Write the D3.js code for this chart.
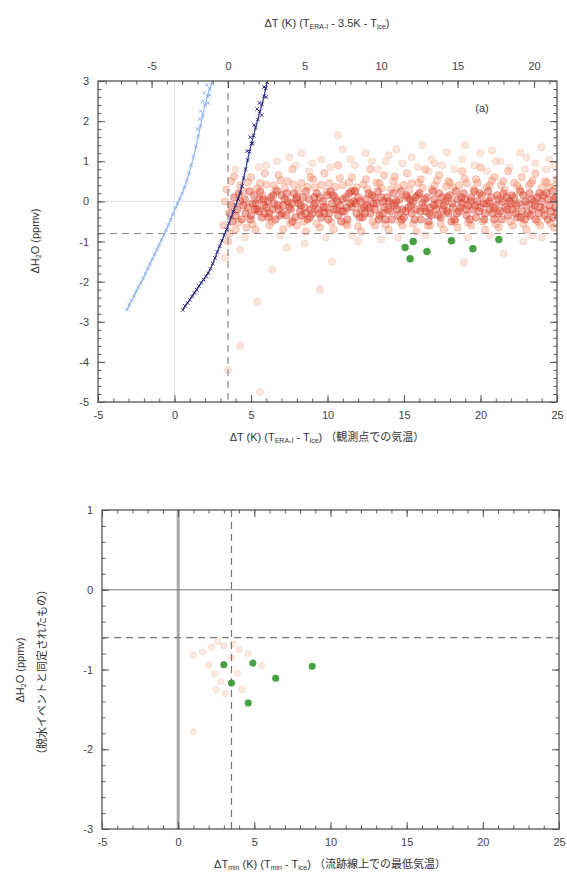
<!DOCTYPE html>
<html><head><meta charset="utf-8">
<script src="https://cdn.jsdelivr.net/npm/d3@7"></script>
<style>
body{margin:0;background:#fff}
text{font-family:"Liberation Sans",Arial,sans-serif}
.jp{font-family:"Noto Sans CJK JP","Liberation Sans",sans-serif}
</style>
</head><body>
<svg id="c" width="567" height="885"></svg>
<script>
// ---------------- DATA ----------------
const xTicksMajor = [-5, 0, 5, 10, 15, 20, 25];
const topTicksMajor = [-5, 0, 5, 10, 15, 20];
const yTicksTop = [3, 2, 1, 0, -1, -2, -3, -4, -5];
const yTicksBottom = [1, 0, -1, -2, -3];
const tShift = 3.5; // top axis: ΔT - 3.5K

// light-blue curve (ΔT, ΔH2O), along the line
const curveLight = [[-3.1,-2.7],[-2.95,-2.58],[-2.8,-2.47],[-2.65,-2.36],[-2.5,-2.25],[-2.35,-2.14],[-2.2,-2.03],[-2.05,-1.92],[-1.9,-1.8],[-1.75,-1.68],[-1.6,-1.56],[-1.45,-1.44],[-1.3,-1.32],[-1.15,-1.2],[-1.0,-1.08],[-0.85,-0.96],[-0.7,-0.84],[-0.55,-0.72],[-0.4,-0.59],[-0.25,-0.46],[-0.1,-0.32],[0.05,-0.18],[0.2,-0.05],[0.35,0.07],[0.5,0.2],[0.65,0.35],[0.8,0.52],[0.95,0.7],[1.1,0.9],[1.25,1.12],[1.4,1.36],[1.55,1.62],[1.7,1.88],[1.85,2.14],[2.0,2.4],[2.15,2.62],[2.3,2.8],[2.45,2.97]];
// light-blue scattered markers near the top
const curveLightScatter = [[1.5,1.8],[1.7,2.25],[1.85,2.5],[2.2,2.45],[1.95,2.7],[2.1,2.9],[1.65,2.05],[2.3,2.65]];
// dark-navy curve, along the line
const curveDark = [[0.55,-2.7],[0.7,-2.61],[0.85,-2.53],[1.0,-2.45],[1.15,-2.37],[1.3,-2.28],[1.45,-2.2],[1.6,-2.11],[1.75,-2.03],[1.9,-1.95],[2.05,-1.87],[2.2,-1.79],[2.35,-1.68],[2.5,-1.55],[2.65,-1.41],[2.8,-1.26],[2.95,-1.12],[3.1,-0.98],[3.25,-0.84],[3.4,-0.7],[3.55,-0.55],[3.7,-0.4],[3.85,-0.25],[4.0,-0.09],[4.15,0.06],[4.28,0.2],[4.4,0.38],[4.52,0.58],[4.65,0.8],[4.78,1.03],[4.9,1.24],[5.03,1.44],[5.17,1.64],[5.3,1.83],[5.45,2.04],[5.58,2.24],[5.72,2.42],[5.85,2.62],[5.97,2.82],[6.05,2.97]];
// dark-navy scattered markers near the top
const curveDarkScatter = [[5.2,1.9],[5.55,2.45],[5.85,2.85],[4.75,1.25],[5.7,2.15],[5.1,1.45],[6.0,2.6],[5.4,2.3],[4.95,1.6]];

// observation cloud: dense core
const cloudCore = [[3.6,-0.3],[3.9,0.1],[4.1,-0.2],[4.4,-0.45],[4.6,0.05],[4.8,-0.15],[5.0,-0.35],[5.2,0.15],[5.3,-0.05],[5.5,-0.25],[5.7,-0.4],[5.8,0.05],[6.0,-0.15],[6.2,-0.3],[6.3,0.1],[6.5,-0.05],[6.6,-0.45],[6.8,-0.2],[7.0,0.15],[7.1,-0.1],[7.3,-0.35],[7.4,0.0],[7.6,-0.2],[7.8,0.2],[7.9,-0.4],[8.1,-0.05],[8.2,-0.25],[8.4,0.1],[8.5,-0.15],[8.7,-0.45],[8.8,0.05],[9.0,-0.3],[9.1,-0.1],[9.3,0.2],[9.4,-0.2],[9.6,-0.4],[9.7,0.0],[9.9,-0.15],[10.0,0.15],[10.1,-0.3],[10.3,-0.05],[10.4,-0.2],[10.5,0.1],[10.7,-0.35],[10.8,-0.1],[11.0,0.05],[11.1,-0.25],[11.3,-0.45],[11.4,0.2],[11.6,-0.15],[11.7,0.0],[11.9,-0.3],[12.0,0.1],[12.2,-0.2],[12.3,-0.4],[12.5,0.05],[12.6,-0.1],[12.8,-0.3],[12.9,0.15],[13.1,-0.2],[13.2,-0.05],[13.4,-0.35],[13.5,0.1],[13.7,-0.15],[13.8,-0.45],[14.0,0.0],[14.1,-0.25],[14.3,0.2],[14.4,-0.1],[14.6,-0.35],[14.7,0.05],[14.9,-0.2],[15.0,-0.4],[15.2,0.1],[15.3,-0.15],[15.5,-0.3],[15.6,0.0],[15.8,-0.2],[15.9,0.15],[16.1,-0.45],[16.2,-0.05],[16.4,-0.25],[16.5,0.1],[16.7,-0.15],[16.8,-0.35],[17.0,0.05],[17.1,-0.2],[17.3,0.2],[17.4,-0.4],[17.6,-0.1],[17.7,0.0],[17.9,-0.3],[18.0,0.15],[18.2,-0.15],[18.3,-0.45],[18.5,0.05],[18.6,-0.25],[18.8,-0.05],[18.9,0.2],[19.1,-0.35],[19.2,-0.1],[19.4,0.1],[19.5,-0.2],[19.7,-0.4],[19.8,0.0],[20.0,-0.15],[20.1,0.15],[20.3,-0.3],[20.4,-0.05],[20.6,-0.2],[20.7,0.1],[20.9,-0.45],[21.0,-0.1],[21.2,0.05],[21.3,-0.25],[21.5,0.2],[21.6,-0.15],[21.8,-0.35],[21.9,0.0],[22.1,-0.2],[22.2,0.1],[22.4,-0.4],[22.5,-0.05],[22.7,-0.25],[22.8,0.15],[23.0,-0.1],[23.1,-0.3],[23.3,0.05],[23.4,-0.2],[23.6,-0.45],[23.7,0.1],[23.9,-0.15],[24.0,0.0],[24.2,-0.35],[24.3,0.2],[24.5,-0.1],[24.6,-0.25],[24.8,0.05],[24.9,-0.15],
[3.8,-0.5],[4.2,0.2],[4.5,-0.1],[4.9,0.25],[5.1,-0.05],[5.4,-0.2],[5.6,0.25],[5.9,-0.3],[6.1,0.0],[6.4,-0.2],[6.7,0.25],[6.9,-0.35],[7.2,0.05],[7.5,-0.15],[7.7,-0.5],[8.0,0.1],[8.3,-0.35],[8.6,0.25],[8.9,-0.2],[9.2,-0.05],[9.5,0.1],[9.8,-0.3],[10.2,0.25],[10.6,-0.2],[10.9,-0.5],[11.2,0.1],[11.5,-0.05],[11.8,0.25],[12.1,-0.4],[12.4,-0.15],[12.7,0.2],[13.0,-0.05],[13.3,0.25],[13.6,-0.3],[13.9,0.1],[14.2,-0.45],[14.5,0.0],[14.8,0.25],[15.1,-0.25],[15.4,0.05],[15.7,-0.45],[16.0,0.2],[16.3,-0.15],[16.6,-0.5],[16.9,0.25],[17.2,-0.05],[17.5,0.1],[17.8,-0.25],[18.1,-0.5],[18.4,0.25],[18.7,-0.15],[19.0,0.05],[19.3,-0.45],[19.6,0.25],[19.9,-0.25],[20.2,-0.05],[20.5,0.25],[20.8,-0.3],[21.1,0.15],[21.4,-0.45],[21.7,0.1],[22.0,-0.05],[22.3,-0.3],[22.6,0.25],[22.9,-0.45],[23.2,0.2],[23.5,0.0],[23.8,-0.3],[24.1,0.15],[24.4,-0.45],[24.7,0.25],[25.0,-0.3],
[3.7,-0.1],[4.0,-0.35],[4.3,0.0],[4.65,-0.3],[4.95,-0.45],[5.25,-0.2],[5.55,0.05],[5.85,-0.1],[6.15,-0.4],[6.45,0.15],[6.75,-0.1],[7.05,-0.3],[7.35,0.2],[7.65,-0.05],[7.95,0.05],[8.25,-0.1],[8.55,-0.3],[8.85,-0.4],[9.15,0.1],[9.45,-0.3],[9.75,-0.15],[10.05,-0.45],[10.35,0.15],[10.65,0.0],[10.95,-0.25],[11.25,-0.15],[11.55,0.25],[11.85,-0.05],[12.15,0.0],[12.45,-0.3],[12.75,-0.15],[13.05,0.1],[13.35,-0.45],[13.65,0.0],[13.95,-0.2],[14.25,-0.05],[14.55,-0.2],[14.85,-0.45],[15.15,0.15],[15.45,-0.1],[15.75,0.1],[16.05,-0.25],[16.35,0.05],[16.65,-0.3],[16.95,-0.1],[17.25,-0.35],[17.55,-0.2],[17.85,0.1],[18.15,-0.05],[18.45,-0.3],[18.75,0.1],[19.05,-0.2],[19.35,0.0],[19.65,-0.1],[19.95,0.2],[20.25,-0.45],[20.55,0.0],[20.85,-0.15],[21.15,-0.3],[21.45,0.0],[21.75,-0.2],[22.05,0.15],[22.35,-0.1],[22.65,-0.4],[22.95,0.0],[23.25,-0.35],[23.55,-0.1],[23.85,0.2],[24.15,-0.2],[24.45,0.05],[24.75,-0.4],[24.95,0.1]];
// observation cloud: mid spread
const cloudMid = [[3.2,-0.6],[3.4,0.3],[3.5,-1.0],[3.7,0.5],[4.0,-0.7],[4.3,0.4],[4.7,-0.65],[5.0,0.6],[5.3,-0.7],[5.6,0.45],[5.9,0.7],[6.2,-0.6],[6.5,0.4],[6.8,0.65],[7.1,-0.7],[7.4,0.5],[7.7,0.8],[8.0,-0.6],[8.3,0.45],[8.6,-0.75],[8.9,0.6],[9.2,0.35],[9.5,-0.65],[9.8,0.7],[10.1,0.45],[10.4,-0.7],[10.7,0.9],[11.0,0.4],[11.3,-0.6],[11.6,0.6],[11.9,0.35],[12.2,-0.75],[12.5,0.55],[12.8,0.8],[13.1,-0.6],[13.4,0.45],[13.7,0.65],[14.0,-0.7],[14.3,0.5],[14.6,0.35],[14.9,-0.6],[15.2,0.7],[15.5,0.45],[15.8,-0.75],[16.1,0.55],[16.4,0.8],[16.7,-0.6],[17.0,0.4],[17.3,0.65],[17.6,-0.7],[17.9,0.5],[18.2,0.35],[18.5,-0.65],[18.8,0.75],[19.1,0.45],[19.4,-0.6],[19.7,0.55],[20.0,0.85],[20.3,-0.7],[20.6,0.4],[20.9,0.6],[21.2,-0.65],[21.5,0.5],[21.8,0.75],[22.1,-0.6],[22.4,0.4],[22.7,0.6],[23.0,-0.7],[23.3,0.45],[23.6,0.7],[23.9,-0.6],[24.2,0.5],[24.5,0.35],[24.8,-0.65],[25.0,0.55],
[3.3,0.0],[3.6,-0.8],[3.9,0.62],[4.2,-0.52],[4.5,0.25],[4.8,0.48],[5.1,-0.57],[5.4,0.32],[5.75,0.15],[6.0,0.42],[6.35,-0.5],[6.6,0.28],[6.95,0.52],[7.2,0.33],[7.55,-0.55],[7.8,0.42],[8.1,0.27],[8.45,-0.5],[8.7,0.36],[9.05,0.55],[9.3,-0.56],[9.6,0.41],[9.95,0.24],[10.25,-0.52],[10.5,0.36],[10.8,0.58],[11.15,-0.55],[11.4,0.47],[11.75,0.26],[12.0,-0.62],[12.35,0.42],[12.6,0.31],[12.95,-0.5],[13.2,0.47],[13.55,0.33],[13.8,-0.58],[14.15,0.3],[14.4,0.62],[14.75,-0.5],[15.0,0.41],[15.35,0.28],[15.6,-0.56],[15.95,0.46],[16.2,0.34],[16.55,-0.6],[16.8,0.3],[17.15,0.52],[17.4,-0.56],[17.75,0.37],[18.0,0.46],[18.35,-0.5],[18.6,0.4],[18.95,0.57],[19.2,-0.53],[19.55,0.3],[19.8,0.46],[20.15,-0.5],[20.4,0.35],[20.75,0.52],[21.0,-0.57],[21.35,0.4],[21.6,0.28],[21.95,-0.5],[22.2,0.46],[22.55,0.31],[22.8,-0.56],[23.15,0.4],[23.4,0.52],[23.75,-0.5],[24.0,0.35],[24.35,0.47],[24.6,-0.55],[24.9,0.4]];
// observation cloud: pale outliers / haze
const cloudPale = [[3.3,-1.4],[4.3,-1.2],[4.0,0.8],[5.4,-2.5],[6.4,-1.7],[4.3,-3.6],[5.6,-4.75],[3.5,-4.2],[9.5,-2.2],[10.3,-1.5],[7.5,1.1],[8.3,1.2],[9.0,0.95],[10.7,1.65],[11.5,1.05],[12.5,1.2],[13.8,1.0],[14.5,1.3],[15.5,1.1],[16.2,1.4],[17.0,0.95],[17.8,1.22],[18.8,1.05],[19.0,1.4],[20.75,1.27],[21.3,1.0],[22.6,1.22],[24.0,1.35],[24.5,1.05],[7.35,-1.15],[8.5,-1.05],[12.0,-1.0],[13.5,-0.95],[18.9,-1.52],[21.5,-1.3],[22.8,-1.0],[24.0,-0.9],[6.0,0.9],[11.0,1.3],[14.0,1.15],[16.8,1.05],[20.0,1.2],[23.0,1.1],
[5.5,0.85],[6.7,1.0],[7.9,0.9],[8.8,0.75],[9.6,1.05],[10.2,0.85],[11.8,0.9],[12.9,1.0],[13.3,0.8],[14.9,0.95],[15.9,0.85],[16.6,0.75],[17.5,0.9],[18.3,0.8],[19.6,0.9],[20.4,0.75],[21.0,1.0],[21.9,0.85],[22.9,0.8],[23.6,0.95],[24.3,0.8],[24.8,0.9],[4.6,-0.9],[6.9,-0.85],[9.9,-0.9],[11.6,-0.85],[14.6,-0.9],[16.4,-0.85],[19.2,-0.9],[20.6,-0.85],[23.4,-0.85]];
// dehydration events (green), top panel
const eventsTop = [[15.07,-1.15],[15.6,-1.0],[15.4,-1.43],[16.5,-1.25],[18.1,-0.98],[19.5,-1.18],[21.2,-0.95]];
// bottom panel: dehydration events (green) and faint candidates
const eventsBottom = [[3.0,-0.94],[4.9,-0.92],[6.4,-1.11],[3.5,-1.17],[4.6,-1.42],[8.8,-0.96]];
const faintBottom = [[1.0,-0.82],[1.6,-0.78],[2.2,-0.72],[2.6,-0.65],[3.0,-0.7],[3.6,-0.68],[4.0,-0.75],[4.6,-0.8],[2.4,-1.05],[2.8,-1.15],[3.9,-1.05],[3.1,-1.3],[2.5,-1.25],[4.2,-1.25],[1.0,-1.78],[5.5,-0.95],[3.5,-0.85],[2.0,-0.95]];
// reference lines
const dashT = 3.5, dashHTop = -0.8, dashHBottom = -0.6;

// ---------------- DRAW ----------------
const svg = d3.select("#c");
const TOP = {x0:98, x1:557, y0:81, y1:402};
const BOT = {x0:102, x1:559, y0:510, y1:829};

const xT = d3.scaleLinear().domain([-5,25]).range([TOP.x0,TOP.x1]);
const xTT = d3.scaleLinear().domain([-5-tShift,25-tShift]).range([TOP.x0,TOP.x1]);
const yT = d3.scaleLinear().domain([-5,3]).range([TOP.y1,TOP.y0]);
const xB = d3.scaleLinear().domain([-5,25]).range([BOT.x0,BOT.x1]);
const yB = d3.scaleLinear().domain([-3,1]).range([BOT.y1,BOT.y0]);

const AX = "#555";
const fmt = d => String(d);
function styleAxis(g){
  g.select(".domain").remove();
  g.selectAll("line").attr("stroke",AX).attr("stroke-width",1);
  g.selectAll("text").attr("fill","#444").style("font-size","11px");
}
function rng(a,b,s){const r=[];for(let v=a;v<=b+1e-9;v+=s)r.push(+v.toFixed(3));return r;}

function axes(P, x, y, xMajor, yMajor, yMinorStep, xTop, topMajor, topLabels){
  const xMin = rng(x.domain()[0], x.domain()[1], 1);
  const yMin = rng(y.domain()[0], y.domain()[1], yMinorStep);
  svg.append("g").attr("transform",`translate(0,${P.y1})`).call(d3.axisBottom(x).tickValues(xMin).tickSize(-3.5).tickFormat("")).call(styleAxis);
  svg.append("g").attr("transform",`translate(0,${P.y1})`).call(d3.axisBottom(x).tickValues(xMajor).tickSize(-7).tickPadding(9).tickFormat(fmt)).call(styleAxis);
  const tx = xTop || x;
  const tMin = rng(Math.ceil(tx.domain()[0]), Math.floor(tx.domain()[1]), 1);
  svg.append("g").attr("transform",`translate(0,${P.y0})`).call(d3.axisTop(tx).tickValues(tMin).tickSize(-3.5).tickFormat("")).call(styleAxis);
  svg.append("g").attr("transform",`translate(0,${P.y0})`).call(d3.axisTop(tx).tickValues(topMajor).tickSize(-7).tickPadding(11).tickFormat(topLabels? fmt : "")).call(styleAxis);
  svg.append("g").attr("transform",`translate(${P.x0},0)`).call(d3.axisLeft(y).tickValues(yMin).tickSize(-3.5).tickFormat("")).call(styleAxis);
  svg.append("g").attr("transform",`translate(${P.x0},0)`).call(d3.axisLeft(y).tickValues(yMajor).tickSize(-7).tickPadding(9).tickFormat(fmt)).call(styleAxis);
  svg.append("g").attr("transform",`translate(${P.x1},0)`).call(d3.axisRight(y).tickValues(yMin).tickSize(-3.5).tickFormat("")).call(styleAxis);
  svg.append("g").attr("transform",`translate(${P.x1},0)`).call(d3.axisRight(y).tickValues(yMajor).tickSize(-7).tickFormat("")).call(styleAxis);
  svg.append("rect").attr("x",P.x0).attr("y",P.y0).attr("width",P.x1-P.x0).attr("height",P.y1-P.y0)
    .attr("fill","none").attr("stroke",AX).attr("stroke-width",1.3);
}

function clip(id,P){
  svg.append("clipPath").attr("id",id).append("rect").attr("x",P.x0).attr("y",P.y0).attr("width",P.x1-P.x0).attr("height",P.y1-P.y0);
}
clip("cT",TOP); clip("cB",BOT);

// ---- TOP PANEL ----
const gT = svg.append("g").attr("clip-path","url(#cT)");
gT.append("line").attr("x1",TOP.x0).attr("x2",TOP.x1).attr("y1",yT(0)).attr("y2",yT(0)).attr("stroke","#e2e2e2").attr("stroke-width",1);
gT.append("line").attr("x1",xT(0)).attr("x2",xT(0)).attr("y1",TOP.y0).attr("y2",TOP.y1).attr("stroke","#e2e2e2").attr("stroke-width",1);

function dots(g, data, x, y, r, color, fo, so){
  g.append("g").selectAll("circle").data(data).join("circle")
    .attr("cx",d=>x(d[0])).attr("cy",d=>y(d[1])).attr("r",r)
    .attr("fill",color).attr("fill-opacity",fo).attr("stroke",color).attr("stroke-opacity",so).attr("stroke-width",0.8);
}
dots(gT, cloudPale, xT, yT, 3.6, "#f2c0a8", 0.4, 0.5);
dots(gT, cloudMid, xT, yT, 3.7, "#f0825a", 0.34, 0.4);
dots(gT, cloudCore, xT, yT, 3.8, "#d8351e", 0.4, 0.35);

gT.append("line").attr("x1",TOP.x0).attr("x2",TOP.x1).attr("y1",yT(dashHTop)).attr("y2",yT(dashHTop)).attr("stroke","#8a8a8a").attr("stroke-width",1.2).attr("stroke-dasharray","7,5");
gT.append("line").attr("x1",xT(dashT)).attr("x2",xT(dashT)).attr("y1",TOP.y0).attr("y2",TOP.y1).attr("stroke","#8a8a8a").attr("stroke-width",1.2).attr("stroke-dasharray","7,5");

function curve(g, data, extra, color){
  g.append("path").datum(data).attr("d",d3.line().x(d=>xT(d[0])).y(d=>yT(d[1])).curve(d3.curveCatmullRom))
    .attr("fill","none").attr("stroke",color).attr("stroke-width",1.3).attr("stroke-opacity",0.85);
  g.append("g").selectAll("path").data(data.concat(extra)).join("path")
    .attr("transform",d=>`translate(${xT(d[0])},${yT(d[1])})`)
    .attr("d",d3.symbol(d3.symbolTimes,10)).attr("fill","none").attr("stroke",color).attr("stroke-width",0.9);
}
curve(gT, curveLight, curveLightScatter, "#86aee6");
curve(gT, curveDark, curveDarkScatter, "#1e1e7a");

dots(gT, eventsTop, xT, yT, 3.4, "#3f9c3a", 0.95, 1);

axes(TOP, xT, yT, xTicksMajor, yTicksTop, 0.2, xTT, topTicksMajor, true);

svg.append("text").attr("x",482).attr("y",112).attr("text-anchor","middle").style("font-size","11px").attr("fill","#333").text("(a)");

function subTitle(parent, parts){
  parts.forEach(p=>{
    const t = parent.append("tspan").text(p[0]);
    if(p[1]==="sub") t.attr("baseline-shift","-25%").style("font-size","7px");
    if(p[1]==="jp") t.attr("class","jp");
  });
}
const tt = svg.append("text").attr("x",327).attr("y",27).attr("text-anchor","middle").style("font-size","11px").attr("fill","#333");
subTitle(tt, [["ΔT (K) (T"],["ERA-I","sub"],[" - 3.5K - T"],["ice","sub"],[")"]]);
const tb = svg.append("text").attr("x",327).attr("y",441).attr("text-anchor","middle").style("font-size","11px").attr("fill","#333");
subTitle(tb, [["ΔT (K) (T"],["ERA-I","sub"],[" - T"],["ice","sub"],[")  "],["（観測点での気温）","jp"]]);
const ty = svg.append("text").attr("transform","translate(39,241) rotate(-90)").attr("text-anchor","middle").style("font-size","11px").attr("fill","#333");
subTitle(ty, [["ΔH"],["2","sub"],["O (ppmv)"]]);

// ---- BOTTOM PANEL ----
const gB = svg.append("g").attr("clip-path","url(#cB)");
gB.append("line").attr("x1",xB(0)).attr("x2",xB(0)).attr("y1",BOT.y0).attr("y2",BOT.y1).attr("stroke","#a8a8a8").attr("stroke-width",3);
gB.append("line").attr("x1",BOT.x0).attr("x2",BOT.x1).attr("y1",yB(0)).attr("y2",yB(0)).attr("stroke","#777").attr("stroke-width",1.2);
dots(gB, faintBottom, xB, yB, 3.2, "#f3c4a8", 0.35, 0.45);
gB.append("line").attr("x1",BOT.x0).attr("x2",BOT.x1).attr("y1",yB(dashHBottom)).attr("y2",yB(dashHBottom)).attr("stroke","#777").attr("stroke-width",1.2).attr("stroke-dasharray","7,5");
gB.append("line").attr("x1",xB(dashT)).attr("x2",xB(dashT)).attr("y1",BOT.y0).attr("y2",BOT.y1).attr("stroke","#777").attr("stroke-width",1.2).attr("stroke-dasharray","7,5");
dots(gB, eventsBottom, xB, yB, 3.2, "#3f9c3a", 0.95, 1);

axes(BOT, xB, yB, xTicksMajor, yTicksBottom, 0.2, null, xTicksMajor, false);

const bt = svg.append("text").attr("x",330).attr("y",868).attr("text-anchor","middle").style("font-size","11px").attr("fill","#333");
subTitle(bt, [["ΔT"],["min","sub"],[" (K) (T"],["min","sub"],[" - T"],["ice","sub"],[")  "],["（流跡線上での最低気温）","jp"]]);
const by1 = svg.append("text").attr("transform","translate(24,670) rotate(-90)").attr("text-anchor","middle").style("font-size","11px").attr("fill","#333");
subTitle(by1, [["ΔH"],["2","sub"],["O (ppmv)"]]);
svg.append("text").attr("class","jp").attr("transform","translate(46,672) rotate(-90)").attr("text-anchor","middle").style("font-size","11px").attr("fill","#333").text("（脱水イベントと同定されたもの）");
</script>
</body></html>
